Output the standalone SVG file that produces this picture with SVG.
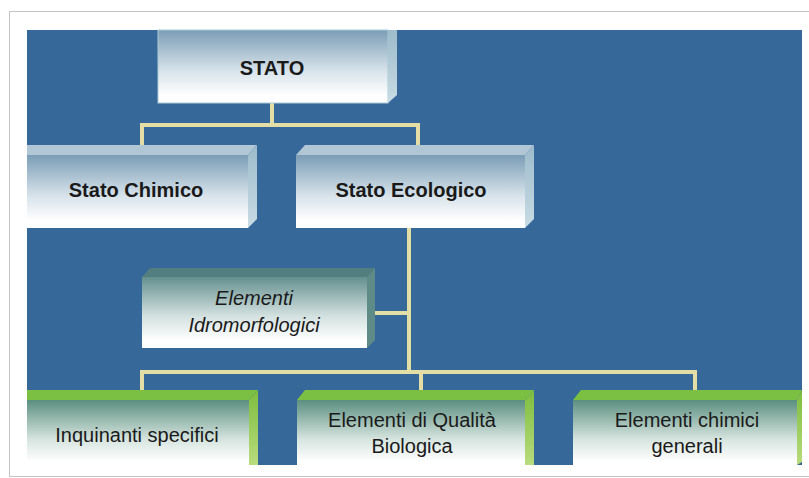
<svg xmlns="http://www.w3.org/2000/svg" width="809" height="478" viewBox="0 0 809 478">
<defs>
<linearGradient id="gBlue" x1="0" y1="0" x2="0" y2="1">
<stop offset="0" stop-color="#7B9DB6"/>
<stop offset="0.55" stop-color="#D6E2EA"/>
<stop offset="0.9" stop-color="#FFFFFF"/>
</linearGradient>
<linearGradient id="gSideBlue" x1="0" y1="0" x2="0" y2="1">
<stop offset="0" stop-color="#9DBBCB"/>
<stop offset="1" stop-color="#C8DCE4"/>
</linearGradient>
<linearGradient id="gTeal" x1="0" y1="0" x2="0" y2="1">
<stop offset="0" stop-color="#64908F"/>
<stop offset="0.55" stop-color="#D3E1E0"/>
<stop offset="0.9" stop-color="#FFFFFF"/>
</linearGradient>
<linearGradient id="gGreen" x1="0" y1="0" x2="0" y2="1">
<stop offset="0" stop-color="#5B8F80"/>
<stop offset="0.6" stop-color="#D5E4DE"/>
<stop offset="0.95" stop-color="#FFFFFF"/>
</linearGradient>
<linearGradient id="gSideGreen" x1="0" y1="0" x2="0" y2="1">
<stop offset="0" stop-color="#7DBD3E"/>
<stop offset="1" stop-color="#B9DC7E"/>
</linearGradient>
<style>
.t{font-family:"Liberation Sans",Arial,sans-serif;font-size:20px;fill:#1a1a1a;text-anchor:middle}
.b{font-weight:bold}
.i{font-style:italic}
.topB{fill:#B2C7D6}
.topT{fill:#527E80}
.sideT{fill:#5E8A87}
.topG{fill:#7CC043}
.conn{stroke:#E3DDA6;stroke-width:4;fill:none;stroke-linecap:square}
</style>
</defs>
<rect x="9.5" y="11.5" width="810" height="465" fill="#FFFFFF" stroke="#C4C4C4" stroke-width="1"/>
<rect x="27" y="30" width="775" height="435" fill="#37689A"/>

<g id="connectors">
<path class="conn" d="M272,103 V125 M142,125 H418 M142,125 V145 M418,125 V145"/>
<path class="conn" d="M409,228 V372 M375,313 H409 M142,372 H695 M142,372 V390 M421,372 V390 M695,372 V390"/>
</g>

<g id="stato">
<rect x="158" y="30" width="230" height="73" fill="url(#gBlue)" stroke="#A9CBD6" stroke-width="1"/>
<polygon points="388,30 397,30 397,95 388,103" fill="url(#gSideBlue)"/>
<text class="t b" x="272" y="75">STATO</text>
</g>

<g id="stato-chimico">
<polygon class="topB" points="27,145 257,145 248,155 27,155"/>
<rect x="27" y="155" width="221" height="73" fill="url(#gBlue)"/>
<polygon points="248,155 257,145 257,219 248,228" fill="url(#gSideBlue)"/>
<text class="t b" x="136" y="197">Stato Chimico</text>
</g>

<g id="stato-ecologico">
<polygon class="topB" points="296,155 305,145 534,145 525,155"/>
<rect x="296" y="155" width="229" height="73" fill="url(#gBlue)"/>
<polygon points="525,155 534,145 534,219 525,228" fill="url(#gSideBlue)"/>
<text class="t b" x="411" y="197">Stato Ecologico</text>
</g>

<g id="elementi-idromorfologici">
<polygon class="topT" points="142,277 150,268 375,268 367,277"/>
<rect x="142" y="277" width="225" height="71" fill="url(#gTeal)"/>
<polygon class="sideT" points="367,277 375,268 375,340 367,348"/>
<text class="t i" x="254" y="305">Elementi</text>
<text class="t i" x="254" y="332">Idromorfologici</text>
</g>

<g id="inquinanti-specifici">
<polygon class="topG" points="27,390 258,390 249,400 27,400"/>
<rect x="27" y="400" width="222" height="65" fill="url(#gGreen)"/>
<polygon points="249,400 258,390 258,465 249,465" fill="url(#gSideGreen)"/>
<text class="t" x="137" y="442">Inquinanti specifici</text>
</g>

<g id="elementi-qualita-biologica">
<polygon class="topG" points="297,400 305,390 534,390 525,400"/>
<rect x="297" y="400" width="228" height="65" fill="url(#gGreen)"/>
<polygon points="525,400 534,390 534,465 525,465" fill="url(#gSideGreen)"/>
<text class="t" x="412" y="427">Elementi di Qualità</text>
<text class="t" x="412" y="453">Biologica</text>
</g>

<g id="elementi-chimici-generali">
<polygon class="topG" points="573,400 581,390 802,390 797,400"/>
<rect x="573" y="400" width="224" height="65" fill="url(#gGreen)"/>
<polygon points="797,400 802,390 802,462 797,465" fill="url(#gSideGreen)"/>
<text class="t" x="687" y="427">Elementi chimici</text>
<text class="t" x="687" y="453">generali</text>
</g>
</svg>
